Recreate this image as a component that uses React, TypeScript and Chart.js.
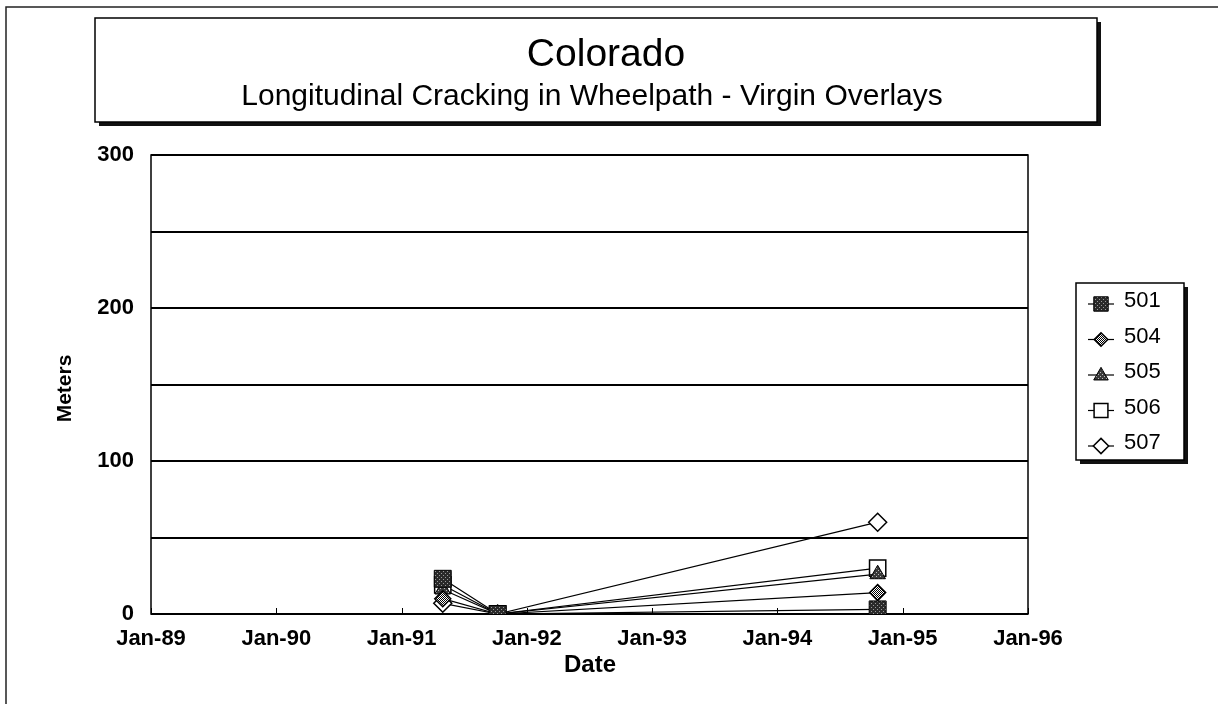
import React, { useEffect, useRef } from 'react';
import { Chart, registerables } from 'chart.js';

Chart.register(...registerables);

// ---- data ----
const surveyDates = ['1991-05-01', '1991-10-08', '1994-10-20'];
const seriesNames = ['501', '504', '505', '506', '507'];
const values501 = [23, 0, 3];
const values504 = [10, 0, 14];
const values505 = [16, 0, 26];
const values506 = [19, 0, 30];
const values507 = [7, 0, 60];
const xTickYears = [1989, 1990, 1991, 1992, 1993, 1994, 1995, 1996];
const yMin = 0;
const yMax = 300;
const titleText = 'Colorado';
const subtitleText = 'Longitudinal Cracking in Wheelpath - Virgin Overlays';
const yAxisTitle = 'Meters';
const xAxisTitle = 'Date';

const FONT = '"Liberation Sans", Arial, sans-serif';

function toYear(d: string): number {
  const [y, m, dd] = d.split('-').map(Number);
  const start = Date.UTC(y, 0, 1);
  const end = Date.UTC(y + 1, 0, 1);
  return y + (Date.UTC(y, m - 1, dd) - start) / (end - start);
}

function makePattern(bg: string, fg: string, dots: number[][], size = 4): CanvasPattern | string {
  const c = document.createElement('canvas');
  c.width = size;
  c.height = size;
  const g = c.getContext('2d');
  if (!g) return bg;
  g.fillStyle = bg;
  g.fillRect(0, 0, size, size);
  g.fillStyle = fg;
  dots.forEach(([x, y]) => g.fillRect(x, y, 1, 1));
  const p = g.createPattern(c, 'repeat');
  return p || bg;
}

type MarkerDef = { style: string; radius: number; fill: any; width: number };

function drawMarker(ctx: CanvasRenderingContext2D, m: MarkerDef, x: number, y: number) {
  ctx.save();
  ctx.fillStyle = m.fill;
  ctx.strokeStyle = '#000';
  ctx.lineWidth = m.width;
  ctx.beginPath();
  const r = m.radius;
  if (m.style === 'rect') {
    const s = Math.SQRT1_2 * r;
    ctx.rect(x - s, y - s, 2 * s, 2 * s);
  } else if (m.style === 'rectRot') {
    ctx.moveTo(x, y - r);
    ctx.lineTo(x + r, y);
    ctx.lineTo(x, y + r);
    ctx.lineTo(x - r, y);
    ctx.closePath();
  } else if (m.style === 'triangle') {
    ctx.moveTo(x, y - r);
    ctx.lineTo(x + r * 0.95, y + r * 0.65);
    ctx.lineTo(x - r * 0.95, y + r * 0.65);
    ctx.closePath();
  }
  ctx.fill();
  ctx.stroke();
  ctx.restore();
}

export default function App() {
  const canvasRef = useRef<HTMLCanvasElement | null>(null);

  useEffect(() => {
    const canvas = canvasRef.current;
    if (!canvas) return;

    const p501 = makePattern('#2a2a2a', '#9a9a9a', [[1, 1], [3, 3]]);
    const p504 = makePattern('#ffffff', '#000000', [[0, 0], [2, 0], [1, 1], [3, 1], [0, 2], [2, 2], [1, 3], [3, 3]]);
    const p505 = makePattern('#3a3a3a', '#bbbbbb', [[0, 0], [2, 2]]);

    const markers: MarkerDef[] = [
      { style: 'rect', radius: 12, fill: p501, width: 1 },
      { style: 'rectRot', radius: 8, fill: p504, width: 1.5 },
      { style: 'triangle', radius: 9, fill: p505, width: 1 },
      { style: 'rect', radius: 11.5, fill: '#ffffff', width: 1.5 },
      { style: 'rectRot', radius: 9, fill: '#ffffff', width: 1.5 },
    ];
    const allValues = [values501, values504, values505, values506, values507];
    const xs = surveyDates.map(toYear);

    const datasets = seriesNames.map((name, i) => ({
      label: name,
      data: xs.map((x, j) => ({ x, y: allValues[i][j] })),
      borderColor: '#000',
      borderWidth: 1.2,
      pointStyle: markers[i].style as any,
      pointRadius: markers[i].radius,
      pointBackgroundColor: markers[i].fill,
      pointBorderColor: '#000',
      pointBorderWidth: markers[i].width,
      fill: false,
      tension: 0,
    }));

    const decorPlugin = {
      id: 'decor',
      beforeDraw(chart: any) {
        const ctx: CanvasRenderingContext2D = chart.ctx;
        ctx.save();
        ctx.fillStyle = '#fff';
        ctx.fillRect(0, 0, chart.width, chart.height);
        ctx.restore();
      },
      beforeDatasetsDraw(chart: any) {
        const ctx: CanvasRenderingContext2D = chart.ctx;
        const a = chart.chartArea;
        const xs = chart.scales.x;
        ctx.save();
        ctx.strokeStyle = '#000';
        ctx.lineWidth = 1.5;
        ctx.strokeRect(a.left, a.top, a.right - a.left, a.bottom - a.top);
        ctx.lineWidth = 1;
        xTickYears.forEach((yr) => {
          const px = Math.round(xs.getPixelForValue(yr)) + 0.5;
          ctx.beginPath();
          ctx.moveTo(px, a.bottom);
          ctx.lineTo(px, a.bottom - 6);
          ctx.stroke();
        });
        ctx.restore();
      },
      afterDraw(chart: any) {
        const ctx: CanvasRenderingContext2D = chart.ctx;
        const a = chart.chartArea;
        ctx.save();
        // outer page frame
        ctx.strokeStyle = '#222';
        ctx.lineWidth = 1.5;
        ctx.beginPath();
        ctx.moveTo(6, chart.height);
        ctx.lineTo(6, 7);
        ctx.lineTo(chart.width, 7);
        ctx.stroke();

        // title box with shadow
        const tb = { l: 95, t: 18, r: 1097, b: 122 };
        ctx.fillStyle = '#111';
        ctx.fillRect(tb.l + 4, tb.b, tb.r - tb.l, 4);
        ctx.fillRect(tb.r, tb.t + 4, 4, tb.b - tb.t);
        ctx.fillStyle = '#fff';
        ctx.fillRect(tb.l, tb.t, tb.r - tb.l, tb.b - tb.t);
        ctx.strokeStyle = '#000';
        ctx.lineWidth = 1.5;
        ctx.strokeRect(tb.l, tb.t, tb.r - tb.l, tb.b - tb.t);
        ctx.fillStyle = '#000';
        ctx.textAlign = 'center';
        ctx.textBaseline = 'middle';
        ctx.font = `39px ${FONT}`;
        ctx.fillText(titleText, 606, 55);
        ctx.font = `30px ${FONT}`;
        ctx.fillText(subtitleText, 592, 97);

        // axis titles
        ctx.font = `bold 24px ${FONT}`;
        ctx.fillText(xAxisTitle, 590, 665);
        ctx.font = `bold 21px ${FONT}`;
        ctx.save();
        ctx.translate(65, (a.top + a.bottom) / 2 + 4);
        ctx.rotate(-Math.PI / 2);
        ctx.fillText(yAxisTitle, 0, 0);
        ctx.restore();

        // legend box
        const lb = { l: 1076, t: 283, r: 1184, b: 460 };
        ctx.fillStyle = '#111';
        ctx.fillRect(lb.l + 4, lb.b, lb.r - lb.l, 4);
        ctx.fillRect(lb.r, lb.t + 4, 4, lb.b - lb.t);
        ctx.fillStyle = '#fff';
        ctx.fillRect(lb.l, lb.t, lb.r - lb.l, lb.b - lb.t);
        ctx.strokeStyle = '#000';
        ctx.lineWidth = 1.5;
        ctx.strokeRect(lb.l, lb.t, lb.r - lb.l, lb.b - lb.t);
        const rowStart = 301;
        const rowGap = 35.5;
        ctx.textAlign = 'left';
        ctx.font = `22px ${FONT}`;
        seriesNames.forEach((name, i) => {
          const y = rowStart + i * rowGap;
          ctx.strokeStyle = '#000';
          ctx.lineWidth = 1.2;
          ctx.beginPath();
          ctx.moveTo(1088, y + 3);
          ctx.lineTo(1114, y + 3);
          ctx.stroke();
          const m = { ...markers[i], radius: markers[i].radius * 0.85 };
          drawMarker(ctx, m, 1101, y + 3);
          ctx.fillStyle = '#000';
          ctx.fillText(name, 1124, y);
        });
        ctx.restore();
      },
    };

    const chart = new Chart(canvas, {
      type: 'line',
      data: { datasets },
      options: {
        animation: false,
        responsive: false,
        devicePixelRatio: 1,
        layout: { padding: { left: 0, top: 155, right: 190, bottom: 0 } },
        plugins: { legend: { display: false }, title: { display: false }, tooltip: { enabled: false } },
        scales: {
          x: {
            type: 'linear',
            min: xTickYears[0],
            max: xTickYears[xTickYears.length - 1],
            afterBuildTicks: (s: any) => {
              s.ticks = xTickYears.map((v) => ({ value: v }));
            },
            afterFit: (s: any) => {
              s.height = 90;
            },
            grid: { display: false, drawTicks: false },
            border: { display: false },
            ticks: {
              padding: 12,
              color: '#000',
              font: { family: FONT, size: 22, weight: 'bold' },
              maxRotation: 0,
              autoSkip: false,
              callback: (v: any) => 'Jan-' + String(v).slice(2),
            },
          },
          y: {
            type: 'linear',
            min: yMin,
            max: yMax,
            afterFit: (s: any) => {
              s.width = 151;
            },
            grid: { color: '#000', lineWidth: 2, drawTicks: false },
            border: { display: false },
            ticks: {
              stepSize: 50,
              padding: 17,
              color: '#000',
              font: { family: FONT, size: 22, weight: 'bold' },
              callback: (v: any) => (Number(v) % 100 === 0 ? String(v) : ''),
            },
          },
        },
      },
      plugins: [decorPlugin],
    } as any);

    return () => {
      chart.destroy();
    };
  }, []);

  return (
    <div style={{ position: 'fixed', left: 0, top: 0, width: 1218, height: 704, background: '#fff' }}>
      <canvas ref={canvasRef} width={1218} height={704} style={{ display: 'block', width: 1218, height: 704 }} />
    </div>
  );
}
